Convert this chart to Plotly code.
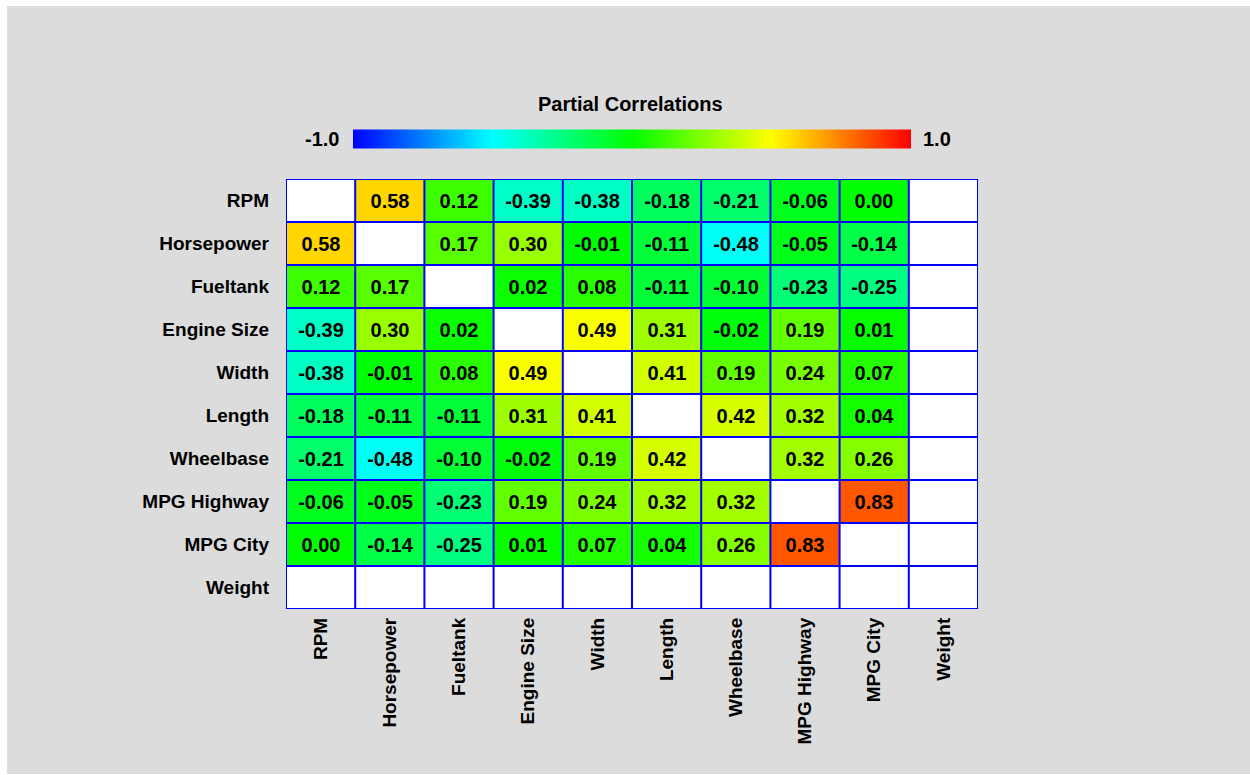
import plotly.graph_objects as go

# Variables, in row (top to bottom) and column (left to right) order
variables = ["RPM", "Horsepower", "Fueltank", "Engine Size", "Width",
             "Length", "Wheelbase", "MPG Highway", "MPG City", "Weight"]

# Partial correlation matrix; None marks cells left blank
row_rpm = [None, 0.58, 0.12, -0.39, -0.38, -0.18, -0.21, -0.06, 0.00, None]
row_horsepower = [0.58, None, 0.17, 0.30, -0.01, -0.11, -0.48, -0.05, -0.14, None]
row_fueltank = [0.12, 0.17, None, 0.02, 0.08, -0.11, -0.10, -0.23, -0.25, None]
row_engine_size = [-0.39, 0.30, 0.02, None, 0.49, 0.31, -0.02, 0.19, 0.01, None]
row_width = [-0.38, -0.01, 0.08, 0.49, None, 0.41, 0.19, 0.24, 0.07, None]
row_length = [-0.18, -0.11, -0.11, 0.31, 0.41, None, 0.42, 0.32, 0.04, None]
row_wheelbase = [-0.21, -0.48, -0.10, -0.02, 0.19, 0.42, None, 0.32, 0.26, None]
row_mpg_highway = [-0.06, -0.05, -0.23, 0.19, 0.24, 0.32, 0.32, None, 0.83, None]
row_mpg_city = [0.00, -0.14, -0.25, 0.01, 0.07, 0.04, 0.26, 0.83, None, None]
row_weight = [None] * 10

matrix = [row_rpm, row_horsepower, row_fueltank, row_engine_size, row_width,
          row_length, row_wheelbase, row_mpg_highway, row_mpg_city, row_weight]

colorbar_min_label = "-1.0"
colorbar_max_label = "1.0"
title_text = "Partial Correlations"

FONT = "Liberation Sans, Arial, sans-serif"
BG = "#dcdcdc"
GRID = "#0000ff"

W, H = 1250, 775
ML, MR, MT, MB = 286, 272, 179, 166
PW, PH = W - ML - MR, H - MT - MB

n = len(variables)
idx = list(range(n))
cell_text = [["" if v is None else f"{v:.2f}" for v in row] for row in matrix]

jet = [[0.0, "#0000ff"], [0.25, "#00ffff"], [0.5, "#00ff00"],
       [0.75, "#ffff00"], [1.0, "#ff0000"]]


def px_x(px):
    return (px - ML) / PW


def px_y(py):
    return (H - MB - py) / PH


fig = go.Figure()
fig.add_trace(go.Heatmap(
    z=matrix, x=idx, y=idx,
    text=cell_text, texttemplate="%{text}",
    textfont=dict(family=FONT, size=20, color="black", weight="bold"),
    colorscale=jet, zmin=-1, zmax=1,
    hoverongaps=False,
    colorbar=dict(
        orientation="h", x=px_x(632), xanchor="center",
        y=px_y(139), yanchor="middle", yref="paper",
        len=(558 + 20) / PW, lenmode="fraction", thickness=19,
        xpad=10, ypad=0,
        outlinewidth=0, showticklabels=False, ticks="",
    ),
))

# Cell borders
shapes = []
for k in range(n + 1):
    shapes.append(dict(type="line", xref="x", yref="y", x0=k - 0.5, x1=k - 0.5,
                       y0=-0.5, y1=n - 0.5, line=dict(color=GRID, width=2), layer="above"))
    shapes.append(dict(type="line", xref="x", yref="y", y0=k - 0.5, y1=k - 0.5,
                       x0=-0.5, x1=n - 0.5, line=dict(color=GRID, width=2), layer="above"))

# Thin white page edge on the left, top and bottom
shapes += [
    dict(type="rect", xref="paper", yref="paper", x0=px_x(-5), x1=px_x(7),
         y0=px_y(H + 5), y1=px_y(-5), fillcolor="white", line=dict(width=0), layer="below"),
    dict(type="rect", xref="paper", yref="paper", x0=px_x(-5), x1=px_x(W + 5),
         y0=px_y(6), y1=px_y(-5), fillcolor="white", line=dict(width=0), layer="below"),
    dict(type="rect", xref="paper", yref="paper", x0=px_x(-5), x1=px_x(W + 5),
         y0=px_y(H + 5), y1=px_y(774), fillcolor="white", line=dict(width=0), layer="below"),
]

annotations = [
    dict(text=title_text, xref="paper", yref="paper", x=px_x(630), y=px_y(104),
         xanchor="center", yanchor="middle", showarrow=False,
         font=dict(family=FONT, size=20, color="black", weight="bold")),
    dict(text=colorbar_min_label, xref="paper", yref="paper", x=px_x(341), y=px_y(139),
         xanchor="right", yanchor="middle", showarrow=False,
         font=dict(family=FONT, size=20, color="black", weight="bold")),
    dict(text=colorbar_max_label, xref="paper", yref="paper", x=px_x(921), y=px_y(139),
         xanchor="left", yanchor="middle", showarrow=False,
         font=dict(family=FONT, size=20, color="black", weight="bold")),
]

tick_font = dict(family=FONT, size=19, color="black", weight="bold")

fig.update_layout(
    width=W, height=H,
    margin=dict(l=ML, r=MR, t=MT, b=MB, pad=0),
    paper_bgcolor=BG, plot_bgcolor="white",
    shapes=shapes, annotations=annotations,
    xaxis=dict(tickmode="array", tickvals=idx, ticktext=variables, tickangle=-90,
               range=[-0.5, n - 0.5], showgrid=False, zeroline=False,
               ticks="", ticklabelstandoff=4, tickfont=tick_font, fixedrange=True),
    yaxis=dict(tickmode="array", tickvals=idx, ticktext=variables,
               range=[n - 0.5, -0.5], showgrid=False, zeroline=False,
               ticks="", ticklabelstandoff=16, tickfont=tick_font, fixedrange=True),
)

fig.write_html("out.html")
